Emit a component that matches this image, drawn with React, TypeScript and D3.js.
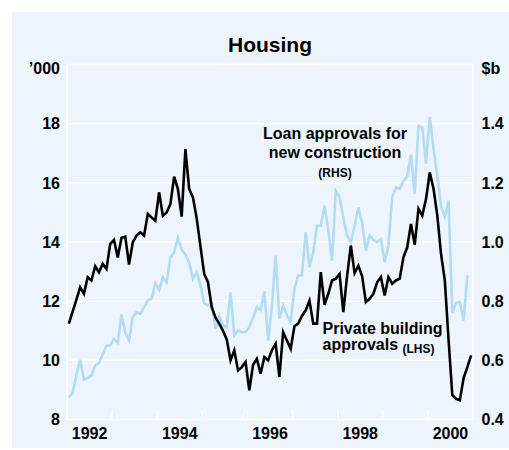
import React, { useEffect, useRef } from 'react';
import * as d3 from 'd3';

// monthly data starting Jan 1992
const startYear = 1992;

// private building approvals, '000 (LHS)
const privateApprovals = [
  11.24, 11.65, 12.05, 12.47, 12.25, 12.81, 12.7, 13.18, 12.98, 13.26, 13.09, 13.94,
  14.07, 13.48, 14.14, 14.18, 13.24, 13.99, 14.22, 14.33, 14.22, 14.95, 14.83, 14.72,
  15.68, 14.89, 15.0, 15.28, 16.21, 15.79, 14.86, 17.14, 15.79, 15.51, 14.8, 13.85,
  12.92, 12.64, 11.8, 11.45, 11.24, 11.0, 10.7, 10.0, 10.34, 9.66, 9.77, 9.94,
  8.99, 9.85, 10.05, 9.55, 10.11, 10.0, 10.34, 10.56, 9.44, 10.95, 10.67, 10.39,
  11.15, 11.24, 11.5, 11.69, 12.02, 11.24, 11.24, 12.98, 11.88, 12.25, 12.7, 12.76,
  12.92, 11.63, 12.85, 13.88, 12.95, 13.2, 12.85, 11.97, 12.08, 12.25, 12.64, 12.81,
  12.19, 12.81, 12.59, 12.7, 12.76, 13.48, 13.82, 14.61, 13.91, 15.12, 14.89, 15.45,
  16.35, 15.8, 14.9, 13.6, 12.7, 10.7, 8.82, 8.7, 8.65, 9.4, 9.77, 10.17,
];

// loan approvals for new construction, $b (RHS)
const loanApprovals = [
  0.476, 0.49, 0.55, 0.602, 0.535, 0.54, 0.549, 0.582, 0.591, 0.62, 0.65, 0.65,
  0.673, 0.66, 0.755, 0.695, 0.667, 0.746, 0.763, 0.757, 0.78, 0.802, 0.808, 0.861,
  0.838, 0.881, 0.864, 0.948, 0.965, 1.014, 0.975, 0.957, 0.93, 0.875, 0.898, 0.855,
  0.793, 0.785, 0.793, 0.707, 0.752, 0.718, 0.712, 0.83, 0.684, 0.701, 0.695, 0.695,
  0.712, 0.744, 0.78, 0.769, 0.833, 0.667, 0.78, 0.954, 0.741, 0.785, 0.752, 0.729,
  0.842, 0.887, 0.887, 1.033, 0.915, 0.965, 1.055, 1.055, 1.123, 1.04, 0.937, 1.173,
  1.151, 1.083, 1.022, 0.999, 1.055, 1.117, 1.065, 0.971, 1.022, 1.007, 1.0, 1.01,
  0.932, 0.99, 1.151, 1.185, 1.18, 1.207, 1.222, 1.295, 1.162, 1.393, 1.387, 1.265,
  1.423, 1.315, 1.225, 1.12, 1.085, 1.14, 0.76, 0.795, 0.797, 0.735, 0.887,
];

const leftTicks = [8, 10, 12, 14, 16, 18];
const rightTicks = [0.4, 0.6, 0.8, 1.0, 1.2, 1.4];
const yearLabels = [1992, 1994, 1996, 1998, 2000];
const yearTicks = [1993, 1994, 1995, 1996, 1997, 1998, 1999, 2000];

export default function App() {
  const ref = useRef<SVGSVGElement>(null);

  useEffect(() => {
    const svg = d3.select(ref.current);
    svg.selectAll('*').remove();

    const left = 67, right = 473, top = 64.5, bottom = 419.5;
    const font = '"Liberation Sans", Arial, Helvetica, sans-serif';

    const x = d3.scaleLinear().domain([1992, 2001]).range([left, right]);
    const yL = d3.scaleLinear().domain([8, 20]).range([bottom, top]);
    const yR = d3.scaleLinear().domain([0.4, 1.6]).range([bottom, top]);
    const monthX = (i: number) => x(startYear + (i + 0.5) / 12);

    svg.append('rect')
      .attr('x', 12).attr('y', 12)
      .attr('width', 497).attr('height', 436)
      .attr('fill', '#eef4fb');

    // gridlines
    svg.append('g').selectAll('line')
      .data(leftTicks.slice(1))
      .enter().append('line')
      .attr('x1', left).attr('x2', right)
      .attr('y1', d => yL(d)).attr('y2', d => yL(d))
      .attr('stroke', '#fff').attr('stroke-width', 1.5);

    svg.append('rect')
      .attr('x', left).attr('y', top)
      .attr('width', right - left).attr('height', bottom - top)
      .attr('fill', 'none').attr('stroke', '#fff').attr('stroke-width', 1.5);

    svg.append('g').selectAll('line')
      .data(yearTicks)
      .enter().append('line')
      .attr('x1', d => x(d)).attr('x2', d => x(d))
      .attr('y1', bottom).attr('y2', bottom - 9)
      .attr('stroke', '#fff').attr('stroke-width', 1.5);

    const loanLine = d3.line<number>()
      .x((d, i) => monthX(i))
      .y(d => yR(d));
    const privLine = d3.line<number>()
      .x((d, i) => monthX(i))
      .y(d => yL(d));

    svg.append('path')
      .attr('d', loanLine(loanApprovals))
      .attr('fill', 'none')
      .attr('stroke', '#b2dcf4')
      .attr('stroke-width', 2.6)
      .attr('stroke-linejoin', 'miter');

    svg.append('path')
      .attr('d', privLine(privateApprovals))
      .attr('fill', 'none')
      .attr('stroke', '#000')
      .attr('stroke-width', 2.6)
      .attr('stroke-linejoin', 'miter');

    const text = (tx: number, ty: number, s: string, size: number, anchor: string) =>
      svg.append('text')
        .attr('x', tx).attr('y', ty)
        .attr('font-family', font)
        .attr('font-size', size)
        .attr('font-weight', 'bold')
        .attr('text-anchor', anchor)
        .attr('fill', '#000')
        .text(s);

    leftTicks.forEach(t => text(60, yL(t) + 5.8, String(t), 16, 'end'));
    rightTicks.forEach(t => text(481.5, yR(t) + 5.8, t.toFixed(1), 16, 'start'));
    yearLabels.forEach(t => text(x(t + 0.5), 438.5, String(t), 16, 'middle'));

    text(60, 73.5, '\u2019000', 16, 'end');
    text(481.5, 73.5, '$b', 16, 'start');
    text(270, 51.5, 'Housing', 21, 'middle');

    text(335, 139, 'Loan approvals for', 16, 'middle');
    text(335, 158, 'new construction', 16, 'middle');
    text(335, 176.5, '(RHS)', 12, 'middle');

    text(322.5, 334, 'Private building', 16, 'start');
    text(322.5, 350, 'approvals', 16, 'start');
    text(402.5, 353, '(LHS)', 12, 'start');
  }, []);

  return (
    <svg
      ref={ref}
      width={509}
      height={450}
      style={{ position: 'absolute', left: 0, top: 0 }}
    />
  );
}
